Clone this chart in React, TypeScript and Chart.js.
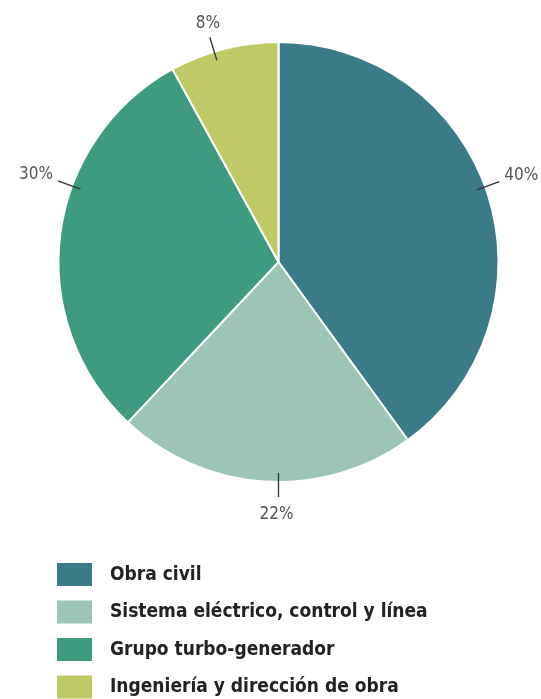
import React, { useEffect, useRef } from "react";
import { Chart, registerables } from "chart.js";

Chart.register(...registerables);

const categories = [
  "Obra civil",
  "Sistema eléctrico, control y línea",
  "Grupo turbo-generador",
  "Ingeniería y dirección de obra",
];
const values = [40, 22, 30, 8];
const valueLabels = ["40%", "22%", "30%", "8%"];
const colors = ["#3B7B88", "#9CC5B5", "#3F9B7F", "#BFC966"];
// small angular nudges (degrees) of the leader lines, as in the original artwork
const leaderShift = [-2, -3.6, 13, -2.6];

const labelPlugin = {
  id: "outerLabels",
  afterDatasetsDraw(chart: any) {
    const ctx = chart.ctx;
    const meta = chart.getDatasetMeta(0);
    ctx.save();
    meta.data.forEach((arc: any, i: number) => {
      const p = arc.getProps(["x", "y", "startAngle", "endAngle", "outerRadius"], true);
      const mid = (p.startAngle + p.endAngle) / 2 + (leaderShift[i] * Math.PI) / 180;
      const c = Math.cos(mid);
      const s = Math.sin(mid);
      const r0 = p.outerRadius - 9;
      const r1 = p.outerRadius + 15;
      const x0 = p.x + c * r0, y0 = p.y + s * r0;
      const x1 = p.x + c * r1, y1 = p.y + s * r1;
      ctx.strokeStyle = "#333333";
      ctx.lineWidth = 1.3;
      ctx.beginPath();
      ctx.moveTo(x0, y0);
      ctx.lineTo(x1, y1);
      ctx.stroke();
      ctx.fillStyle = "#555555";
      ctx.font = "17px 'DejaVu Sans Condensed', 'DejaVu Sans', sans-serif";
      ctx.textBaseline = "middle";
      if (Math.abs(c) > 0.6) {
        ctx.textAlign = c > 0 ? "left" : "right";
        ctx.fillText(valueLabels[i], x1 + (c > 0 ? 5 : -5), y1 - 6);
      } else {
        ctx.textAlign = "center";
        ctx.fillText(valueLabels[i], x1 - 2, y1 + (s > 0 ? 18 : -14));
      }
    });
    ctx.restore();
  },
  afterDraw(chart: any) {
    const ctx = chart.ctx;
    ctx.save();
    categories.forEach((cat, i) => {
      const top = 563 + i * 37.5;
      ctx.fillStyle = colors[i];
      ctx.fillRect(57, top, 35, 23);
      ctx.fillStyle = "#222222";
      ctx.font = "bold 19px 'DejaVu Sans Condensed', 'DejaVu Sans', sans-serif";
      ctx.textAlign = "left";
      ctx.textBaseline = "middle";
      ctx.fillText(cat, 110, top + 12);
    });
    ctx.restore();
  },
};

export default function App() {
  const ref = useRef<HTMLCanvasElement>(null);
  useEffect(() => {
    if (!ref.current) return;
    const chart = new Chart(ref.current, {
      type: "pie",
      data: {
        labels: categories,
        datasets: [
          {
            data: values,
            backgroundColor: colors,
            borderColor: "#ffffff",
            borderWidth: 2,
          },
        ],
      },
      options: {
        responsive: false,
        animation: false,
        layout: { padding: { left: 57, right: 41, top: 41, bottom: 216 } },
        plugins: {
          legend: { display: false },
          tooltip: { enabled: false },
        },
      },
      plugins: [labelPlugin],
    });
    return () => chart.destroy();
  }, []);
  return (
    <div style={{ position: "fixed", left: 0, top: 0, width: 541, height: 699, background: "#fff" }}>
      <canvas ref={ref} width={541} height={699} style={{ width: 541, height: 699 }} />
    </div>
  );
}
